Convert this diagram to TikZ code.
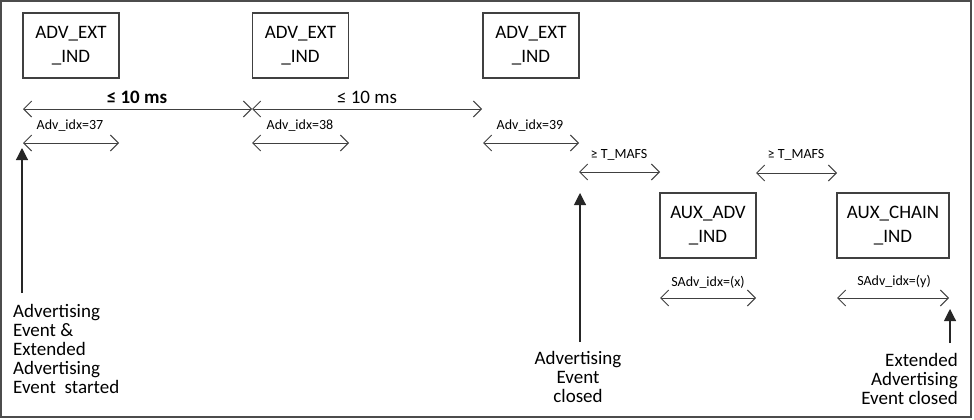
\documentclass[tikz,border=0pt]{standalone}
\usepackage{fontspec}
\setmainfont{Carlito}
\usetikzlibrary{arrows.meta}
\begin{document}
\begin{tikzpicture}[x=1pt,y=-1pt,
  box/.style={draw=black!75,line width=1.1pt,minimum height=65pt,inner sep=0pt,align=center,
    font=\fontsize{19}{24}\selectfont},
  span/.style={draw=black!75,line width=1pt,{Straight Barb[length=8pt,width=16pt]}-{Straight Barb[length=8pt,width=16pt]}},
  up/.style={draw=black!85,line width=1.1pt,-{Triangle[length=12pt,width=12pt]}},
  big/.style={font=\fontsize{19}{19}\selectfont,inner sep=0pt},
  small/.style={font=\fontsize{14}{14}\selectfont,inner sep=0pt},
  note/.style={font=\fontsize{19}{19}\selectfont,inner sep=0pt}]
\useasboundingbox (0,0) rectangle (974,420);
\draw[draw=black!70,line width=2pt] (1,1) rectangle (971,417);
% boxes
\node[box,minimum width=96pt] (b1) at (71,45.5) {ADV\_EXT\\\_IND};
\node[box,minimum width=96pt] (b2) at (300.5,45.5) {ADV\_EXT\\\_IND};
\node[box,minimum width=96pt] (b3) at (531,45.5) {ADV\_EXT\\\_IND};
\node[box,minimum width=96pt] (a1) at (708,225.5) {AUX\_ADV\\\_IND};
\node[box,minimum width=112pt] (a2) at (893,225.5) {AUX\_CHAIN\\\_IND};
% long interval arrows
\coordinate (t0) at (23,109);
\coordinate (t1) at (252,109);
\coordinate (t2) at (482,109);
\draw[span] (t0) -- (t1);
\draw[span] (t1) -- (t2);
\node[big,font=\fontsize{19}{19}\selectfont\bfseries] (l1) at (137,97) {≤ 10 ms};
\node[big] (l2) at (367,97) {≤ 10 ms};
% adv idx arrows
\coordinate (s1a) at (23,143); \coordinate (s1b) at (119,143);
\coordinate (s2a) at (252,143); \coordinate (s2b) at (349,143);
\coordinate (s3a) at (483,143); \coordinate (s3b) at (579,143);
\draw[span] (s1a) -- (s1b);
\draw[span] (s2a) -- (s2b);
\draw[span] (s3a) -- (s3b);
\node[small] (i1) at (70,126) {Adv\_idx=37};
\node[small] (i2) at (300,126) {Adv\_idx=38};
\node[small] (i3) at (530,126) {Adv\_idx=39};
% T_MAFS
\coordinate (m1a) at (579,172); \coordinate (m1b) at (660,172);
\coordinate (m2a) at (756,173); \coordinate (m2b) at (837,173);
\draw[span] (m1a) -- (m1b);
\draw[span] (m2a) -- (m2b);
\node[small] (tm1) at (619,155) {≥ T\_MAFS};
\node[small] (tm2) at (796,155) {≥ T\_MAFS};
% SAdv idx
\coordinate (x1a) at (660,298); \coordinate (x1b) at (756,298);
\coordinate (x2a) at (837,298); \coordinate (x2b) at (949,298);
\draw[span] (x1a) -- (x1b);
\draw[span] (x2a) -- (x2b);
\node[small] (sx) at (708,282) {SAdv\_idx=(x)};
\node[small] (sy) at (894,282) {SAdv\_idx=(y)};
% event arrows
\coordinate (e1b) at (22,293); \coordinate (e1t) at (22,148);
\coordinate (e2b) at (580,342); \coordinate (e2t) at (580,193);
\coordinate (e3b) at (950,343); \coordinate (e3t) at (950,309);
\draw[up] (e1b) -- (e1t);
\draw[up] (e2b) -- (e2t);
\draw[up] (e3b) -- (e3t);
% notes
\node[note,anchor=north west,align=left] (n1) at (13,304) {Advertising\\Event \&\\Extended\\Advertising\\Event~ started};
\node[note,anchor=north,align=center] (n2) at (578,351) {Advertising\\Event\\closed};
\node[note,anchor=north east,align=right] (n3) at (958,353) {Extended\\Advertising\\Event closed};
\end{tikzpicture}
\end{document}
